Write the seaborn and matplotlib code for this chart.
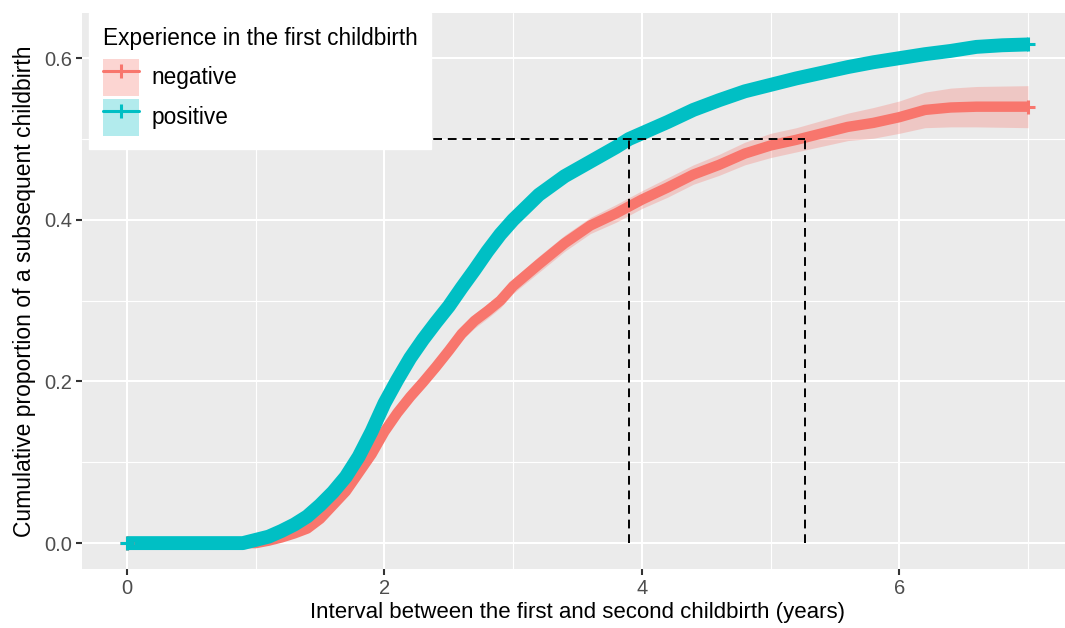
import numpy as np
import pandas as pd
import matplotlib
matplotlib.use('Agg')
import matplotlib.pyplot as plt
import seaborn as sns
from matplotlib.patches import Patch
from matplotlib.lines import Line2D
from matplotlib.legend_handler import HandlerTuple

# ggplot-like look
sns.set_theme(style='darkgrid')
plt.rcParams['font.family'] = ['Liberation Sans', 'DejaVu Sans']
plt.rcParams['text.color'] = 'black'
plt.rcParams['axes.labelcolor'] = 'black'

# Read-off values (cumulative proportion by years since first childbirth)
time_pos = [0.0, 0.9, 1.0, 1.1, 1.2, 1.3, 1.4, 1.5, 1.6, 1.7, 1.8, 1.9, 2.0, 2.1, 2.2,
            2.3, 2.4, 2.5, 2.6, 2.7, 2.8, 2.9, 3.0, 3.2, 3.4, 3.6, 3.8, 3.9, 4.0, 4.2,
            4.4, 4.6, 4.8, 5.0, 5.2, 5.4, 5.6, 5.8, 6.0, 6.2, 6.4, 6.6, 6.8, 7.0]
cum_pos = [0.0, 0.0, 0.004, 0.008, 0.015, 0.023, 0.033, 0.047, 0.063, 0.082, 0.107, 0.138,
           0.173, 0.202, 0.229, 0.252, 0.273, 0.293, 0.316, 0.338, 0.361, 0.382, 0.400,
           0.431, 0.454, 0.472, 0.490, 0.500, 0.507, 0.521, 0.536, 0.548, 0.559, 0.567,
           0.575, 0.582, 0.589, 0.595, 0.600, 0.605, 0.609, 0.614, 0.616, 0.617]

time_neg = [0.0, 1.0, 1.1, 1.2, 1.3, 1.4, 1.5, 1.6, 1.7, 1.8, 1.9, 2.0, 2.1, 2.2, 2.3,
            2.4, 2.5, 2.6, 2.7, 2.8, 2.9, 3.0, 3.2, 3.4, 3.6, 3.8, 4.0, 4.2, 4.4, 4.6,
            4.8, 5.0, 5.2, 5.4, 5.6, 5.8, 6.0, 6.2, 6.4, 6.6, 7.0]
cum_neg = [0.0, 0.0, 0.003, 0.007, 0.012, 0.018, 0.030, 0.047, 0.064, 0.087, 0.110, 0.138,
           0.161, 0.181, 0.199, 0.218, 0.238, 0.259, 0.275, 0.287, 0.300, 0.318, 0.345,
           0.371, 0.393, 0.408, 0.425, 0.440, 0.456, 0.468, 0.482, 0.492, 0.499, 0.507,
           0.515, 0.520, 0.527, 0.536, 0.539, 0.540, 0.540]
ci_neg = [0.0, 0.0, 0.002, 0.003, 0.003, 0.004, 0.004, 0.005, 0.005, 0.006, 0.006, 0.006,
          0.007, 0.007, 0.007, 0.008, 0.008, 0.008, 0.009, 0.009, 0.009, 0.009, 0.010,
          0.010, 0.010, 0.011, 0.011, 0.012, 0.012, 0.013, 0.014, 0.015, 0.015, 0.016,
          0.017, 0.019, 0.020, 0.022, 0.024, 0.025, 0.026]

groups = ['negative', 'positive']
colors = {'negative': '#F8766D', 'positive': '#00BFC4'}
medians = {'negative': 5.27, 'positive': 3.90}

df = pd.concat([
    pd.DataFrame({'time': time_neg, 'cum': cum_neg, 'group': 'negative'}),
    pd.DataFrame({'time': time_pos, 'cum': cum_pos, 'group': 'positive'}),
])

fig = plt.figure(figsize=(10.65, 6.28), dpi=100)
ax = fig.add_axes([0.077, 0.094, 0.9305, 0.8854])
ax.set_facecolor('#EBEBEB')

# confidence ribbon for negative group
lo = np.array(cum_neg) - np.array(ci_neg)
hi = np.array(cum_neg) + np.array(ci_neg)
ax.fill_between(time_neg, lo, hi, color=colors['negative'], alpha=0.3, lw=0, zorder=2)

# curves
sns.lineplot(data=df[df.group == 'negative'], x='time', y='cum', color=colors['negative'],
             linewidth=7.5, ax=ax, estimator=None, sort=False, zorder=3)
sns.lineplot(data=df[df.group == 'positive'], x='time', y='cum', color=colors['positive'],
             linewidth=10, ax=ax, estimator=None, sort=False, zorder=4)
for g, t, c in [('negative', time_neg, cum_neg), ('positive', time_pos, cum_pos)]:
    ax.plot([t[0], t[-1]], [c[0], c[-1]], ls='none', marker='+', ms=10, mew=2.2,
            color=colors[g], zorder=4)
for line in ax.lines:
    line.set_solid_capstyle('butt')
    line.set_solid_joinstyle('round')

# median lines
dash = dict(color='black', lw=1.4, dashes=(4.5, 3), zorder=5)
ax.plot([0, max(medians.values())], [0.5, 0.5], **dash)
for m in medians.values():
    ax.plot([m, m], [0, 0.5], **dash)

ax.set_xlim(-0.35, 7.35)
ax.set_ylim(-0.032, 0.656)
ax.set_xticks([0, 2, 4, 6])
ax.set_xticks([1, 3, 5, 7], minor=True)
ax.set_yticks([0.0, 0.2, 0.4, 0.6])
ax.set_yticks([0.1, 0.3, 0.5], minor=True)
ax.set_yticklabels(['0.0', '0.2', '0.4', '0.6'])
ax.grid(which='major', color='white', lw=1.5)
ax.grid(which='minor', color='white', lw=0.8)
ax.tick_params(which='major', length=4, width=1.5, color='#333333', labelcolor='#4D4D4D',
               labelsize=14.5, pad=3, bottom=True, left=True)
ax.tick_params(which='minor', length=0)
for s in ax.spines.values():
    s.set_visible(False)
ax.set_xlabel('Interval between the first and second childbirth (years)', fontsize=16,
              color='black', labelpad=3)
ax.set_ylabel('Cumulative proportion of a subsequent childbirth', fontsize=16.5,
              color='black', labelpad=6)

handles = [(Patch(facecolor=colors[g], alpha=0.3, lw=0),
            Line2D([], [], color=colors[g], lw=2.2, marker='|', ms=10, mew=2.2)) for g in groups]
leg = ax.legend(handles, groups, handler_map={tuple: HandlerTuple(ndivide=1, pad=0)},
                title='Experience in the first childbirth', loc='upper left',
                bbox_to_anchor=(89 / 1065, 1 - 13 / 628), bbox_transform=fig.transFigure,
                fontsize=16.3, title_fontsize=16.3, alignment='left', frameon=True,
                fancybox=False, framealpha=1, facecolor='white', edgecolor='white',
                borderaxespad=0, borderpad=0.6, handlelength=1.6, handleheight=2.14,
                handletextpad=0.55, labelspacing=0.13, labelcolor='black')
leg.get_title().set_color('black')
leg._legend_box.sep = 6.5  # a bit more room under the legend title
leg.set_zorder(10)

fig.savefig('out.png', dpi=100)
